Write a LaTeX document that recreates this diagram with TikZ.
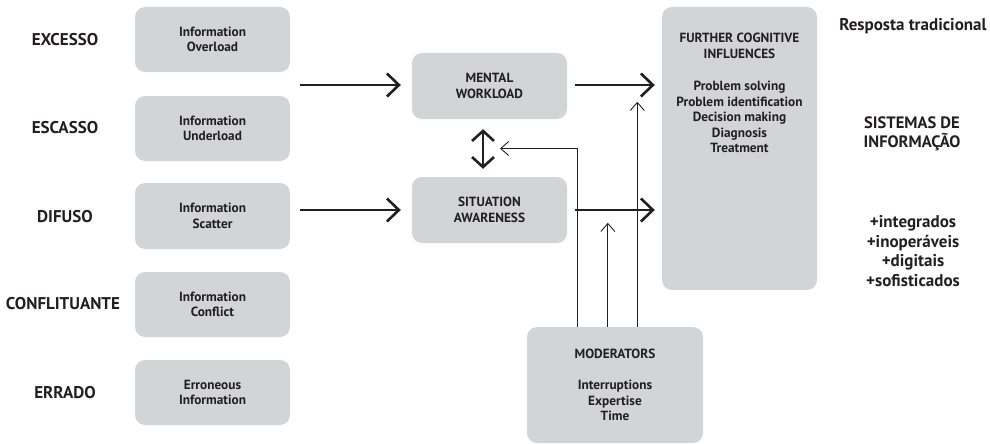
\documentclass[tikz,border=0pt]{standalone}
\usepackage{fontspec}
\setmainfont{PT Sans}
\usetikzlibrary{arrows.meta}
\definecolor{boxgray}{HTML}{D3D4D5}
\definecolor{ink}{HTML}{231F20}
\begin{document}
\begin{tikzpicture}[x=1pt,y=-1pt,
  every node/.style={text=ink, font=\bfseries},
  box/.style={fill=boxgray, rounded corners=10pt, align=center, inner sep=0pt,
    font=\bfseries\fontsize{13.3}{15.5}\selectfont},
  lbl/.style={align=center, font=\bfseries\fontsize{17}{19}\selectfont},
  rtxt/.style={align=center, font=\bfseries\fontsize{17}{19.5}\selectfont},
  thickarrow/.style={draw=ink, line width=2.6pt, -{Straight Barb[length=12pt,width=23pt]}},
  dblarrow/.style={draw=ink, line width=2.6pt, {Straight Barb[length=10pt,width=22pt]}-{Straight Barb[length=10pt,width=22pt]}},
  thinarrow/.style={draw=ink, line width=0.9pt, -{Straight Barb[length=8pt,width=14pt]}}]
\useasboundingbox (0,0) rectangle (990,444);

% left labels
\node[lbl] (l1) at (65,40) {EXCESSO};
\node[lbl] (l2) at (65,128) {ESCASSO};
\node[lbl] (l3) at (65,217) {DIFUSO};
\node[lbl] (l4) at (63,304) {CONFLITUANTE};
\node[lbl] (l5) at (65,393) {ERRADO};

% left boxes
\node[box, minimum width=155pt, minimum height=65pt] (b1) at (212.5,39.5) {Information\\Overload};
\node[box, minimum width=155pt, minimum height=65pt] (b2) at (212.5,128.5) {Information\\Underload};
\node[box, minimum width=155pt, minimum height=66pt] (b3) at (212.5,216) {Information\\Scatter};
\node[box, minimum width=155pt, minimum height=65pt] (b4) at (212.5,304.5) {Information\\Conflict};
\node[box, minimum width=155pt, minimum height=65pt] (b5) at (212.5,392.5) {Erroneous\\Information};

% middle boxes
\node[box, minimum width=155pt, minimum height=66pt] (mw) at (489.5,86) {MENTAL\\WORKLOAD};
\node[box, minimum width=155pt, minimum height=66pt] (sa) at (489.5,210) {SITUATION\\AWARENESS};

% further cognitive influences
\node[box, minimum width=155pt, minimum height=283pt] (fci) at (739.5,148.5) {};
\node[box, fill=none] (fcit) at (739.5,93) {FURTHER COGNITIVE\\INFLUENCES\\[17pt]Problem solving\\Problem identification\\Decision making\\Diagnosis\\Treatment};

% moderators
\node[box, minimum width=176pt, minimum height=116pt] (mod) at (615,385) {MODERATORS\\[16pt]Interruptions\\Expertise\\Time};

% right texts
\node[rtxt] (r1) at (913,26) {Resposta tradicional};
\node[rtxt, font=\bfseries\fontsize{16.5}{19}\selectfont] (r2) at (912,133.5) {SISTEMAS DE\\INFORMAÇÃO};
\node[rtxt] (r3) at (913,251) {+integrados\\+inoperáveis\\+digitais\\+sofisticados};

% thick arrows
\coordinate (a1) at (300,85);
\coordinate (a2) at (300,210);
\draw[thickarrow, shorten >=11pt] (a1) -- (a1 -| mw.west);
\draw[thickarrow, shorten >=11pt] (a2) -- (a2 -| sa.west);
\draw[thickarrow, shorten <=8pt, shorten >=7pt] (mw.east |- a1) -- (a1 -| fci.west);
\draw[thickarrow, shorten <=8pt, shorten >=7pt] (sa.east |- a2) -- (a2 -| fci.west);
\draw[dblarrow] ([xshift=-6.5pt,yshift=-10pt]mw.south) -- ([xshift=-6.5pt,yshift=8pt]sa.north);

% thin moderator arrows
\coordinate (t1) at (500,148.5);
\draw[thinarrow] ([xshift=51pt]mod.north west) |- (t1);
\draw[thinarrow] ([xshift=81pt]mod.north west) -- ++(0,-104);
\draw[thinarrow] ([xshift=110.5pt]mod.north west) -- ++(0,-225);
\end{tikzpicture}
\end{document}
